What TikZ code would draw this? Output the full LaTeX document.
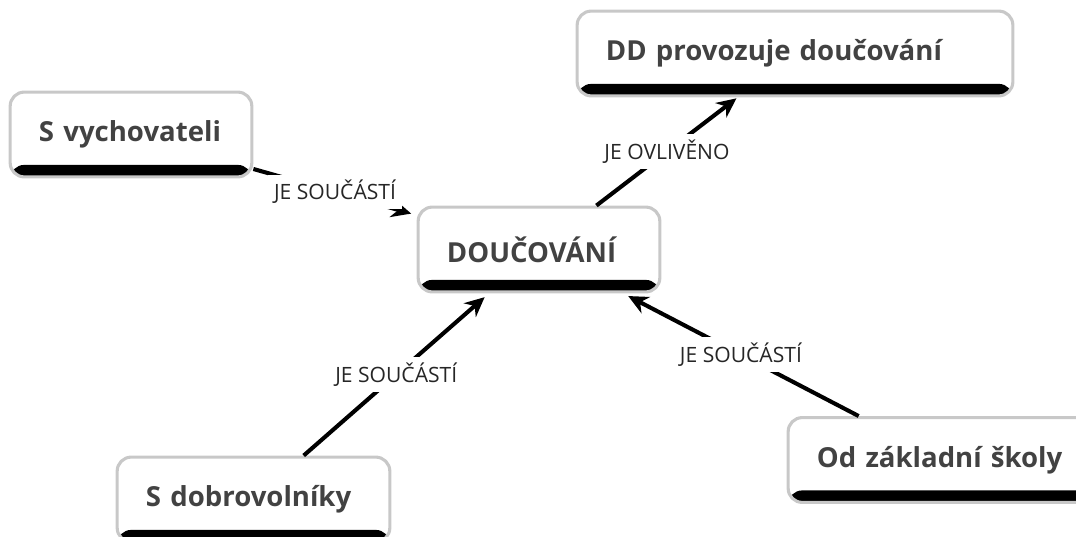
\documentclass[tikz,border=0pt]{standalone}
\usepackage{fontspec}
\setmainfont{Open Sans}
\usepackage{xcolor}
\usetikzlibrary{arrows.meta}
\definecolor{boxgray}{RGB}{200,200,200}
\definecolor{textgray}{RGB}{66,66,66}

\begin{document}
\begin{tikzpicture}[x=0.025cm, y=-0.025cm,
	concept/.style={font=\fontsize{19.6}{22}\selectfont\bfseries, text=textgray, draw=boxgray, line width=2.2pt, fill=white, rounded corners=10pt, minimum height=2.12cm, inner xsep=0.72cm, align=left,
		path picture={\fill[black] ([yshift=0.3cm]path picture bounding box.south west) rectangle (path picture bounding box.south east);}},
	link/.style={font=\fontsize{15}{17}\selectfont, text=black!85, fill=white, inner sep=4pt},
	conn/.style={line width=2.9pt, -{Stealth[length=14pt, width=13pt]}, shorten >=4pt}
]
\useasboundingbox (0,0) rectangle (1076,537);
\clip (0,0) rectangle (1076,537);

\node[concept, text width=4.6cm]   (vych) at (131,134.5) {\mbox{S vychovateli}};
\node[concept, text width=9.45cm]  (dd)   at (795,53.5)  {\mbox{DD provozuje doučování}};
\node[concept, text width=4.6cm]   (douc) at (539,249.5) {\mbox{DOUČOVÁNÍ}};
\node[concept, text width=5.375cm] (dobr) at (253.5,499.5) {\mbox{S dobrovolníky}};
\node[concept, text width=6.3cm]   (odz)  at (943,460)   {\mbox{Od základní školy}};

\draw[conn] (vych) -- (douc) node[link, midway] {JE SOUČÁSTÍ};
\draw[conn, shorten >=1pt] (douc) -- (dd) node[link, midway] {JE OVLIVĚNO};
\draw[conn] (dobr) -- (douc) node[link, midway] {JE SOUČÁSTÍ};
\draw[conn] (odz) -- (douc) node[link, midway] {JE SOUČÁSTÍ};
\end{tikzpicture}
\end{document}
